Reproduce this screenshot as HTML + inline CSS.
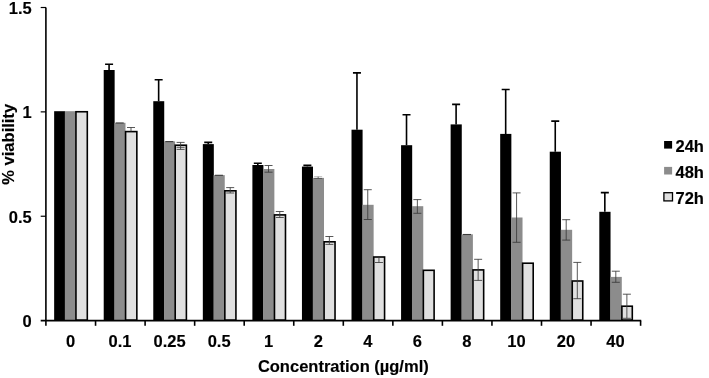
<!DOCTYPE html>
<html lang="en"><head><meta charset="utf-8"><title>% viability vs Concentration</title>
<style>html,body{margin:0;padding:0;background:#fff}body{width:709px;height:378px;overflow:hidden}</style></head>
<body>
<svg width="709" height="378" viewBox="0 0 709 378" style="display:block">
<rect width="709" height="378" fill="#fff"/>
<rect x="54.15" y="111.20" width="10.90" height="209.40" fill="#000"/>
<rect x="64.85" y="111.20" width="11.00" height="209.40" fill="#8c8c8c"/>
<rect x="75.95" y="111.75" width="11.35" height="208.35" fill="#e0e0e0" stroke="#000" stroke-width="1.6"/>
<rect x="103.71" y="70.00" width="10.93" height="250.60" fill="#000"/>
<path d="M109.08 70.00V64.20M105.08 64.20H113.08" stroke="#000" stroke-width="1.6" fill="none"/>
<rect x="114.44" y="122.80" width="11.04" height="197.80" fill="#8c8c8c"/>
<path d="M115.71 123.00H123.71" stroke="#3a3a3a" stroke-width="1.1" fill="none"/>
<rect x="125.58" y="131.60" width="11.26" height="188.50" fill="#e0e0e0" stroke="#000" stroke-width="1.6"/>
<path d="M131.01 127.50V131.60M127.01 127.50H135.01" stroke="#3a3a3a" stroke-width="0.85" fill="none"/>
<rect x="153.27" y="101.20" width="10.96" height="219.40" fill="#000"/>
<path d="M158.65 101.20V79.70M154.65 79.70H162.65" stroke="#000" stroke-width="1.6" fill="none"/>
<rect x="164.03" y="141.40" width="11.08" height="179.20" fill="#8c8c8c"/>
<path d="M165.32 141.60H173.32" stroke="#3a3a3a" stroke-width="1.1" fill="none"/>
<rect x="175.21" y="145.20" width="11.18" height="174.90" fill="#e0e0e0" stroke="#000" stroke-width="1.6"/>
<path d="M180.60 142.40V149.40M176.60 142.40H184.60M176.60 147.30H184.60M176.60 149.40H184.60" stroke="#3a3a3a" stroke-width="0.85" fill="none"/>
<rect x="202.83" y="144.10" width="10.99" height="176.50" fill="#000"/>
<path d="M208.23 144.10V142.40M204.23 142.40H212.23" stroke="#000" stroke-width="1.6" fill="none"/>
<rect x="213.62" y="175.10" width="11.12" height="145.50" fill="#8c8c8c"/>
<path d="M214.93 175.30H222.93" stroke="#3a3a3a" stroke-width="1.1" fill="none"/>
<rect x="224.84" y="190.80" width="11.09" height="129.30" fill="#e0e0e0" stroke="#000" stroke-width="1.6"/>
<path d="M230.19 187.60V193.00M226.19 187.60H234.19M226.19 193.00H234.19" stroke="#3a3a3a" stroke-width="0.85" fill="none"/>
<rect x="252.39" y="165.00" width="11.02" height="155.60" fill="#000"/>
<path d="M257.80 165.00V163.20M253.80 163.20H261.80" stroke="#000" stroke-width="1.6" fill="none"/>
<rect x="263.21" y="169.00" width="11.16" height="151.60" fill="#8c8c8c"/>
<path d="M268.54 172.20V165.50M264.54 165.50H272.54M264.54 172.20H272.54" stroke="#3a3a3a" stroke-width="0.85" fill="none"/>
<rect x="274.47" y="214.90" width="11.01" height="105.20" fill="#e0e0e0" stroke="#000" stroke-width="1.6"/>
<path d="M279.78 211.50V217.50M275.78 211.50H283.78M275.78 217.50H283.78" stroke="#3a3a3a" stroke-width="0.85" fill="none"/>
<rect x="301.95" y="166.60" width="11.05" height="154.00" fill="#000"/>
<path d="M307.38 166.60V165.40M303.38 165.40H311.38" stroke="#000" stroke-width="1.6" fill="none"/>
<rect x="312.80" y="177.90" width="11.20" height="142.70" fill="#8c8c8c"/>
<path d="M314.15 176.70H322.15" stroke="#aaa" stroke-width="0.8" fill="none"/><path d="M314.15 178.50H322.15M318.15 176.70V178.50" stroke="#555" stroke-width="0.9" fill="none"/>
<rect x="324.10" y="241.80" width="10.93" height="78.30" fill="#e0e0e0" stroke="#000" stroke-width="1.6"/>
<path d="M329.36 236.50V244.40M325.36 236.50H333.36M325.36 244.40H333.36" stroke="#3a3a3a" stroke-width="0.85" fill="none"/>
<rect x="351.51" y="129.70" width="11.08" height="190.90" fill="#000"/>
<path d="M356.95 129.70V72.90M352.95 72.90H360.95" stroke="#000" stroke-width="1.6" fill="none"/>
<rect x="362.39" y="204.80" width="11.24" height="115.80" fill="#8c8c8c"/>
<path d="M367.76 219.50V189.70M363.76 189.70H371.76M363.76 219.50H371.76" stroke="#3a3a3a" stroke-width="0.85" fill="none"/>
<rect x="373.73" y="257.00" width="10.84" height="63.10" fill="#e0e0e0" stroke="#000" stroke-width="1.6"/>
<path d="M378.95 257.00V262.50M374.95 262.50H382.95" stroke="#3a3a3a" stroke-width="0.85" fill="none"/>
<rect x="401.07" y="145.20" width="11.11" height="175.40" fill="#000"/>
<path d="M406.52 145.20V114.70M402.52 114.70H410.52" stroke="#000" stroke-width="1.6" fill="none"/>
<rect x="411.98" y="206.20" width="11.28" height="114.40" fill="#8c8c8c"/>
<path d="M417.37 213.30V199.60M413.37 199.60H421.37M413.37 213.30H421.37" stroke="#3a3a3a" stroke-width="0.85" fill="none"/>
<rect x="423.36" y="270.30" width="10.75" height="49.80" fill="#e0e0e0" stroke="#000" stroke-width="1.6"/>
<rect x="450.63" y="124.40" width="11.14" height="196.20" fill="#000"/>
<path d="M456.10 124.40V104.40M452.10 104.40H460.10" stroke="#000" stroke-width="1.6" fill="none"/>
<rect x="461.57" y="234.30" width="11.32" height="86.30" fill="#8c8c8c"/>
<path d="M462.98 234.50H470.98" stroke="#3a3a3a" stroke-width="1.1" fill="none"/>
<rect x="472.99" y="269.90" width="10.67" height="50.20" fill="#e0e0e0" stroke="#000" stroke-width="1.6"/>
<path d="M478.13 259.30V280.40M474.13 259.30H482.13M474.13 280.40H482.13" stroke="#3a3a3a" stroke-width="0.85" fill="none"/>
<rect x="500.19" y="133.90" width="11.17" height="186.70" fill="#000"/>
<path d="M505.68 133.90V89.50M501.68 89.50H509.68" stroke="#000" stroke-width="1.6" fill="none"/>
<rect x="511.16" y="217.50" width="11.36" height="103.10" fill="#8c8c8c"/>
<path d="M516.59 242.30V192.90M512.59 192.90H520.59M512.59 242.30H520.59" stroke="#3a3a3a" stroke-width="0.85" fill="none"/>
<rect x="522.62" y="263.20" width="10.58" height="56.90" fill="#e0e0e0" stroke="#000" stroke-width="1.6"/>
<rect x="549.75" y="151.70" width="11.20" height="168.90" fill="#000"/>
<path d="M555.25 151.70V121.10M551.25 121.10H559.25" stroke="#000" stroke-width="1.6" fill="none"/>
<rect x="560.75" y="229.80" width="11.40" height="90.80" fill="#8c8c8c"/>
<path d="M566.20 240.10V219.70M562.20 219.70H570.20M562.20 240.10H570.20" stroke="#3a3a3a" stroke-width="0.85" fill="none"/>
<rect x="572.25" y="281.00" width="10.50" height="39.10" fill="#e0e0e0" stroke="#000" stroke-width="1.6"/>
<path d="M577.30 262.40V298.70M573.30 262.40H581.30M573.30 298.70H581.30" stroke="#3a3a3a" stroke-width="0.85" fill="none"/>
<rect x="599.31" y="211.80" width="11.23" height="108.80" fill="#000"/>
<path d="M604.83 211.80V192.60M600.83 192.60H608.83" stroke="#000" stroke-width="1.6" fill="none"/>
<rect x="610.34" y="276.90" width="11.44" height="43.70" fill="#8c8c8c"/>
<path d="M615.81 282.30V271.20M611.81 271.20H619.81M611.81 282.30H619.81" stroke="#3a3a3a" stroke-width="0.85" fill="none"/>
<rect x="621.88" y="306.20" width="10.41" height="13.90" fill="#e0e0e0" stroke="#000" stroke-width="1.6"/>
<path d="M626.89 294.20V318.30M622.89 294.20H630.89M622.89 318.30H630.89" stroke="#3a3a3a" stroke-width="0.85" fill="none"/>
<path d="M45.90 7.5V325.80" stroke="#000" stroke-width="1.6" fill="none"/>
<path d="M40.7 320.60H641.20" stroke="#000" stroke-width="1.6" fill="none"/>
<path d="M40.7 216.24H46.00" stroke="#000" stroke-width="1.2" fill="none"/>
<path d="M40.7 111.87H46.00" stroke="#000" stroke-width="1.2" fill="none"/>
<path d="M40.7 7.51H46.00" stroke="#000" stroke-width="1.2" fill="none"/>
<path d="M95.55 320.60V325.80" stroke="#000" stroke-width="1.6" fill="none"/>
<path d="M145.10 320.60V325.80" stroke="#000" stroke-width="1.6" fill="none"/>
<path d="M194.65 320.60V325.80" stroke="#000" stroke-width="1.6" fill="none"/>
<path d="M244.20 320.60V325.80" stroke="#000" stroke-width="1.6" fill="none"/>
<path d="M293.75 320.60V325.80" stroke="#000" stroke-width="1.6" fill="none"/>
<path d="M343.30 320.60V325.80" stroke="#000" stroke-width="1.6" fill="none"/>
<path d="M392.85 320.60V325.80" stroke="#000" stroke-width="1.6" fill="none"/>
<path d="M442.40 320.60V325.80" stroke="#000" stroke-width="1.6" fill="none"/>
<path d="M491.95 320.60V325.80" stroke="#000" stroke-width="1.6" fill="none"/>
<path d="M541.50 320.60V325.80" stroke="#000" stroke-width="1.6" fill="none"/>
<path d="M591.05 320.60V325.80" stroke="#000" stroke-width="1.6" fill="none"/>
<path d="M640.60 320.60V325.80" stroke="#000" stroke-width="1.6" fill="none"/>
<g font-family="'Liberation Sans', Arial, sans-serif" font-weight="bold" font-size="16.5px" fill="#000" stroke="#000" stroke-width="0.15">
<text x="31.7" y="326.90" text-anchor="end">0</text>
<text x="31.7" y="222.54" text-anchor="end">0.5</text>
<text x="31.7" y="118.17" text-anchor="end">1</text>
<text x="31.7" y="13.81" text-anchor="end">1.5</text>
<text x="70.48" y="347.3" text-anchor="middle">0</text>
<text x="120.02" y="347.3" text-anchor="middle">0.1</text>
<text x="169.57" y="347.3" text-anchor="middle">0.25</text>
<text x="219.12" y="347.3" text-anchor="middle">0.5</text>
<text x="268.68" y="347.3" text-anchor="middle">1</text>
<text x="318.22" y="347.3" text-anchor="middle">2</text>
<text x="367.77" y="347.3" text-anchor="middle">4</text>
<text x="417.32" y="347.3" text-anchor="middle">6</text>
<text x="466.87" y="347.3" text-anchor="middle">8</text>
<text x="516.42" y="347.3" text-anchor="middle">10</text>
<text x="565.98" y="347.3" text-anchor="middle">20</text>
<text x="615.52" y="347.3" text-anchor="middle">40</text>
<text x="343.3" y="371.6" text-anchor="middle">Concentration (µg/ml)</text>
<text transform="translate(14.1 144.3) rotate(-90)" text-anchor="middle">% viability</text>
<text x="675.5" y="151.90">24h</text>
<text x="675.5" y="177.80">48h</text>
<text x="675.5" y="203.70">72h</text>
</g>
<rect x="664.1" y="141" width="8" height="7.6" fill="#000"/>
<rect x="664.1" y="166.9" width="8" height="7.6" fill="#8c8c8c"/>
<rect x="663.9" y="192.7" width="8.6" height="8.2" fill="#e0e0e0" stroke="#000" stroke-width="1.3"/>
</svg>
</body></html>
